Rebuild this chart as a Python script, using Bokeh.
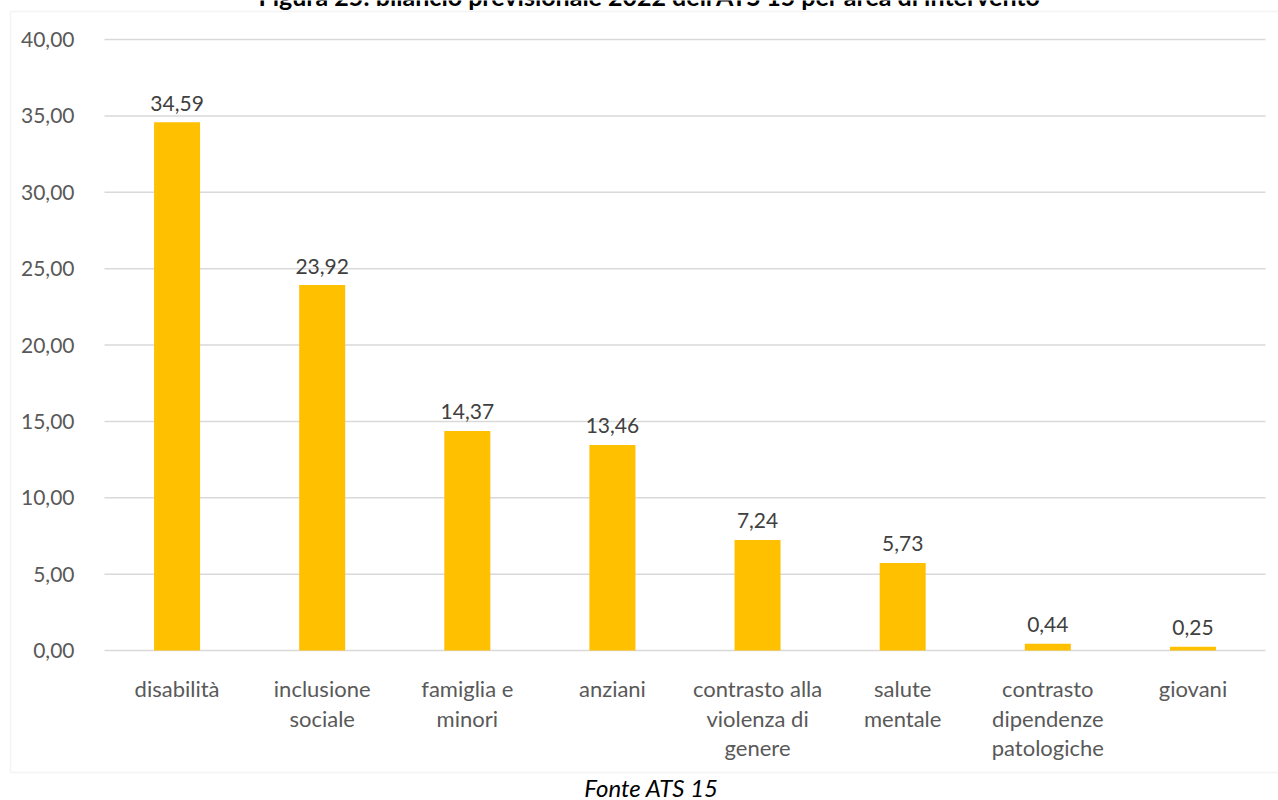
from bokeh.plotting import figure
from bokeh.models import (Range1d, FixedTicker, CustomJSTickFormatter, Label, BoxAnnotation,
                          ColumnDataSource, LinearAxis)
from bokeh.core.properties import value
from bokeh.embed import file_html
from bokeh.resources import INLINE

categories = ["disabilità", "inclusione sociale", "famiglia e minori", "anziani",
              "contrasto alla violenza di genere", "salute mentale",
              "contrasto dipendenze patologiche", "giovani"]
tick_labels = [["disabilità"], ["inclusione", "sociale"], ["famiglia e", "minori"], ["anziani"],
               ["contrasto alla", "violenza di", "genere"], ["salute", "mentale"],
               ["contrasto", "dipendenze", "patologiche"], ["giovani"]]
values = [34.59, 23.92, 14.37, 13.46, 7.24, 5.73, 0.44, 0.25]
y_ticks = [0, 5, 10, 15, 20, 25, 30, 35, 40]
title_text = "Figura 25: bilancio previsionale 2022 dell'ATS 15 per area di intervento"
source_text = "Fonte ATS 15"

FONT = "Lato"
W, H = 1278, 800
# plot area in canvas pixels
L, R, T, B = 104, 1265, 39, 650
y_max = 40
n = len(categories)
cw = (R - L) / n
sy = (B - T) / y_max
x_range = Range1d(-0.5 - L / cw, n - 0.5 + (W - R) / cw)
y_range = Range1d(-(H - B) / sy, y_max + T / sy)

idx = list(range(n))
src = ColumnDataSource(dict(x=idx, val=values,
                            lab=[f"{v:.2f}".replace(".", ",") for v in values]))

p = figure(width=W, height=H, x_range=x_range, y_range=y_range,
           output_backend="svg", toolbar_location=None,
           x_axis_location=None, y_axis_location=None,
           min_border=0)
p.outline_line_color = None
p.background_fill_color = "white"
p.border_fill_color = "white"
p.grid.visible = False

# horizontal gridlines across the plot area
p.segment(x0=[-0.5] * len(y_ticks), x1=[n - 0.5] * len(y_ticks), y0=y_ticks, y1=y_ticks,
          line_color="#d9d9d9", line_width=1.5)

p.vbar(x="x", top="val", width=0.317, source=src, color="#FFC000", line_color=None)
p.text(x="x", y="val", text="lab", source=src, y_offset=-19,
       text_align="center", text_baseline="alphabetic", text_font=value(FONT),
       text_font_size="21px", text_color="#404040")

# y axis at the left edge of the plot area
yax = LinearAxis(fixed_location=-0.5, bounds=(0, y_max))
yax.ticker = FixedTicker(ticks=y_ticks)
yax.formatter = CustomJSTickFormatter(code="return tick.toFixed(2).replace('.', ',');")
yax.axis_line_color = None
yax.major_tick_line_color = None
yax.minor_tick_line_color = None
yax.major_label_standoff = 24
yax.major_label_text_font = FONT
yax.major_label_text_font_size = "21px"
yax.major_label_text_color = "#595959"
p.add_layout(yax, "left")

# category labels (multi-line)
lx, lt, lo = [], [], []
for i, lines in enumerate(tick_labels):
    for j, t in enumerate(lines):
        lx.append(i)
        lt.append(t)
        lo.append(38 + 29.5 * j)
lsrc = ColumnDataSource(dict(x=lx, y=[0] * len(lx), t=lt, off=lo))
p.text(x="x", y="y", text="t", y_offset="off", source=lsrc,
       text_align="center", text_baseline="alphabetic", text_font=value(FONT),
       text_font_size="22px", text_color="#595959")

box = BoxAnnotation(left=10, right=1300, top=11, bottom=772,
                    left_units="canvas", right_units="canvas",
                    top_units="canvas", bottom_units="canvas",
                    fill_color=None, line_color="#d9d9d9", line_width=1.5)
p.add_layout(box)

p.add_layout(Label(x=649, y=-5, x_units="canvas", y_units="canvas", text=title_text,
                   text_align="center", text_baseline="alphabetic", text_font=FONT,
                   text_font_style="bold", text_font_size="25px", text_color="#000000"))
p.add_layout(Label(x=651, y=787, x_units="canvas", y_units="canvas", text=source_text,
                   text_align="center", text_baseline="alphabetic", text_font=FONT,
                   text_font_style="italic", text_font_size="24px", text_color="#000000"))

open("out.html", "w").write(file_html(p, INLINE))
